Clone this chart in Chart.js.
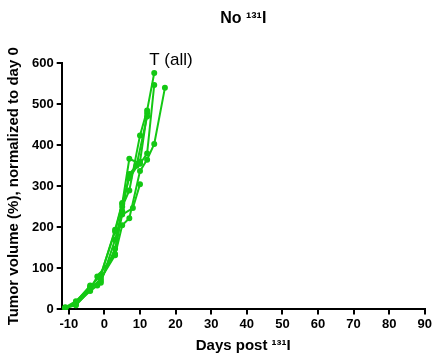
<!DOCTYPE html>
<html>
<head>
<meta charset="utf-8">
<script src="https://cdn.jsdelivr.net/npm/chart.js@4"></script>
<style>
  html, body { margin: 0; padding: 0; background: #fff; }
  #wrap { width: 434px; height: 360px; }
</style>
</head>
<body>
<div id="wrap"><canvas id="chart" width="434" height="360"></canvas></div>
<script>
// days post 131I and tumour volume (% of day 0), one pair per tumour
const days1 = [-11, -8, -4, -2, 3, 5, 7, 10, 12, 14];
const vol1  = [3, 15, 50, 80, 135, 250, 290, 424, 485, 576];
const days2 = [-11, -8, -4, -2, 3, 5, 7, 10, 12, 14];
const vol2  = [2, 12, 45, 58, 190, 257, 367, 355, 380, 547];
const days3 = [-11, -8, -4, -1, 3, 5, 7, 10, 12, 14, 17];
const vol3  = [4, 10, 48, 75, 132, 205, 222, 337, 365, 403, 540];
const days4 = [-11, -8, -4, -1, 3, 5, 7, 10, 12];
const vol4  = [5, 20, 55, 84, 194, 259, 320, 360, 478];
const days5 = [-11, -8, -4, -1, 3, 5, 8, 10];
const vol5  = [3, 14, 52, 70, 148, 231, 247, 305];
const days6 = [-11, -8, -4, -1, 3, 5, 7, 9, 12];
const vol6  = [2, 18, 58, 65, 170, 240, 330, 350, 470];

const xTicks = [-10, 0, 10, 20, 30, 40, 50, 60, 70, 80, 90];
const yTicks = [0, 100, 200, 300, 400, 500, 600];

const green = 'rgb(20, 200, 20)';
const font = 'Liberation Sans, Arial, sans-serif';

function pairs(d, v) {
  return d.map(function(x, i) { return {x: x, y: v[i]}; });
}

const allDays = [days1, days2, days3, days4, days5, days6];
const allVols = [vol1, vol2, vol3, vol4, vol5, vol6];
const datasets = allDays.map(function(d, i) {
  return {
    data: pairs(d, allVols[i]),
    borderColor: green,
    backgroundColor: green,
    borderWidth: 2,
    pointRadius: 2,
    pointHoverRadius: 2,
    showLine: true,
    tension: 0
  };
});

// "T (all)" label above the curves
const treatLabel = {
  id: 'treatLabel',
  afterDraw: function(chart) {
    const c = chart.ctx;
    const x = chart.scales.x.getPixelForValue(12.6);
    const y = chart.scales.y.getPixelForValue(606);
    c.save();
    c.fillStyle = '#000';
    c.font = '17px ' + font;
    c.textAlign = 'left';
    c.textBaseline = 'middle';
    c.fillText('T (all)', x, y);
    c.restore();
  }
};

new Chart(document.getElementById('chart'), {
  type: 'scatter',
  data: { datasets: datasets },
  plugins: [treatLabel],
  options: {
    responsive: false,
    animation: false,
    layout: { padding: { left: 5, right: 0, top: 0, bottom: 5 } },
    plugins: {
      legend: { display: false },
      tooltip: { enabled: false },
      title: {
        display: true,
        text: 'No ¹³¹I',
        fullSize: false,
        color: '#000',
        font: { family: font, size: 16, weight: 'bold' },
        padding: { top: 9, bottom: 35 }
      }
    },
    scales: {
      x: {
        type: 'linear',
        min: -12,
        max: 90,
        afterBuildTicks: function(axis) {
          axis.ticks = xTicks.map(function(v) { return {value: v}; });
        },
        border: { display: true, color: '#000', width: 2 },
        grid: { drawOnChartArea: false, drawTicks: true, tickLength: 5, color: '#000', lineWidth: 2 },
        ticks: { color: '#000', padding: 2, maxRotation: 0, font: { family: font, size: 13, weight: 'bold' } },
        title: {
          display: true,
          text: 'Days post ¹³¹I',
          color: '#000',
          padding: { top: 3, bottom: 0 },
          font: { family: font, size: 15, weight: 'bold' }
        }
      },
      y: {
        min: 0,
        max: 600,
        afterBuildTicks: function(axis) {
          axis.ticks = yTicks.map(function(v) { return {value: v}; });
        },
        border: { display: true, color: '#000', width: 2 },
        grid: { drawOnChartArea: false, drawTicks: true, tickLength: 5, color: '#000', lineWidth: 2 },
        ticks: { color: '#000', padding: 3, font: { family: font, size: 13, weight: 'bold' } },
        title: {
          display: true,
          text: 'Tumor volume (%), normalized to day 0',
          color: '#000',
          padding: { top: 0, bottom: 6 },
          font: { family: font, size: 15, weight: 'bold' }
        }
      }
    }
  }
});
</script>
</body>
</html>
